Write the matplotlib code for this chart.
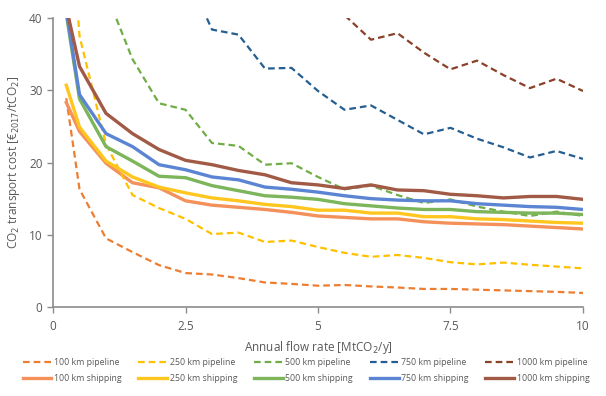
import matplotlib.pyplot as plt
import numpy as np

flow = [0.25, 0.5, 1, 1.5, 2, 2.5, 3, 3.5, 4, 4.5, 5, 5.5, 6, 6.5, 7, 7.5, 8, 8.5, 9, 9.5, 10]

# pipeline costs (values above 40 are off the chart)
pipe_100 = [28.9, 16.3, 9.5, 7.6, 5.8, 4.7, 4.5, 4.0, 3.4, 3.2, 2.95, 3.05, 2.85, 2.7, 2.5, 2.5, 2.4, 2.3, 2.2, 2.1, 1.95]
pipe_250 = [62, 37.5, 22.5, 15.5, 13.7, 12.2, 10.1, 10.3, 9.0, 9.2, 8.3, 7.5, 6.95, 7.2, 6.8, 6.2, 5.9, 6.15, 5.85, 5.6, 5.35]
pipe_500 = [120, 70, 43.5, 34.3, 28.2, 27.3, 22.7, 22.3, 19.7, 19.9, 18.0, 16.3, 16.8, 15.5, 14.4, 14.9, 13.9, 13.2, 12.6, 13.2, 12.6]
pipe_750 = [170, 110, 75, 60, 52, 46.5, 38.4, 37.7, 33.0, 33.1, 29.9, 27.3, 27.9, 25.9, 23.9, 24.8, 23.3, 22.1, 20.7, 21.6, 20.5]
pipe_1000 = [230, 150, 100, 80, 68, 60, 54, 50, 47, 46, 45, 40.4, 37.0, 37.9, 35.2, 32.9, 34.1, 32.1, 30.3, 31.6, 29.9]

# shipping costs
ship_100 = [28.3, 24.3, 19.9, 17.2, 16.5, 14.7, 14.1, 13.8, 13.5, 13.1, 12.6, 12.4, 12.2, 12.2, 11.8, 11.6, 11.5, 11.4, 11.2, 11.0, 10.8]
ship_250 = [30.7, 24.9, 20.2, 18.0, 16.6, 15.8, 15.1, 14.7, 14.2, 13.9, 13.4, 13.4, 13.0, 13.0, 12.5, 12.5, 12.2, 12.1, 11.9, 11.7, 11.6]
ship_500 = [40.6, 28.8, 22.2, 20.2, 18.1, 17.9, 16.8, 16.1, 15.4, 15.2, 14.9, 14.3, 14.0, 13.7, 13.5, 13.5, 13.2, 13.1, 13.0, 13.0, 12.8]
ship_750 = [41.0, 29.4, 24.0, 22.2, 19.7, 19.0, 18.0, 17.6, 16.6, 16.3, 15.9, 15.4, 15.0, 14.8, 14.7, 14.7, 14.3, 14.1, 13.9, 13.8, 13.5]
ship_1000 = [41.5, 33.3, 26.8, 24.0, 21.8, 20.3, 19.7, 18.9, 18.3, 17.2, 16.9, 16.4, 16.9, 16.2, 16.1, 15.6, 15.4, 15.1, 15.3, 15.3, 14.9]

distances = ["100", "250", "500", "750", "1000"]
pipe_series = [pipe_100, pipe_250, pipe_500, pipe_750, pipe_1000]
ship_series = [ship_100, ship_250, ship_500, ship_750, ship_1000]

pipe_colors = ["#ED7D31", "#FFC000", "#70AD47", "#255E91", "#8B4128"]
ship_colors = ["#F4915A", "#FFC61F", "#7CB55A", "#5B84D2", "#A05A45"]

plt.rcParams['font.family'] = ['Open Sans', 'DejaVu Sans']
text_color = "#595959"
axis_color = "#8C8C8C"

fig = plt.figure(figsize=(6.06, 3.96), dpi=100)
ax = fig.add_axes([0.0875, 0.2247, 0.8745, 0.7298])

handles = []
for d, p, s, pc, sc in zip(distances, pipe_series, ship_series, pipe_colors, ship_colors):
    hp, = ax.plot(flow, p, color=pc, lw=1.6, linestyle=(0, (3, 1.8)),
                  label=f"{d} km pipeline", solid_capstyle='butt')
    hs, = ax.plot(flow, s, color=sc, lw=2.4, label=f"{d} km shipping")
    handles += [hp, hs]

ax.set_xlim(0, 10)
ax.set_ylim(0, 40)
ax.set_xticks([0, 2.5, 5, 7.5, 10])
ax.set_xticklabels(["0", "2.5", "5", "7.5", "10"])
ax.set_yticks([0, 10, 20, 30, 40])

for side in ["top", "right"]:
    ax.spines[side].set_visible(False)
for side in ["left", "bottom"]:
    ax.spines[side].set_color(axis_color)
    ax.spines[side].set_linewidth(1.2)
ax.tick_params(colors=axis_color, labelcolor=text_color, labelsize=8.5, length=4, width=1)
ax.tick_params(axis='x', pad=5)

ax.set_xlabel("Annual flow rate [MtCO$_2$/y]", color=text_color, fontsize=8.5, labelpad=5)
ax.set_ylabel("CO$_2$ transport cost [€$_{2017}$/tCO$_2$]", color=text_color, fontsize=8.5, labelpad=5)

leg = fig.legend(handles=handles, ncol=5, loc="lower center", bbox_to_anchor=(0.505, 0.012),
                 frameon=False, fontsize=6.3, handlelength=3.3, handletextpad=0.3,
                 columnspacing=1.9, labelspacing=0.8, labelcolor=text_color)

fig.savefig("out.png", dpi=100)
